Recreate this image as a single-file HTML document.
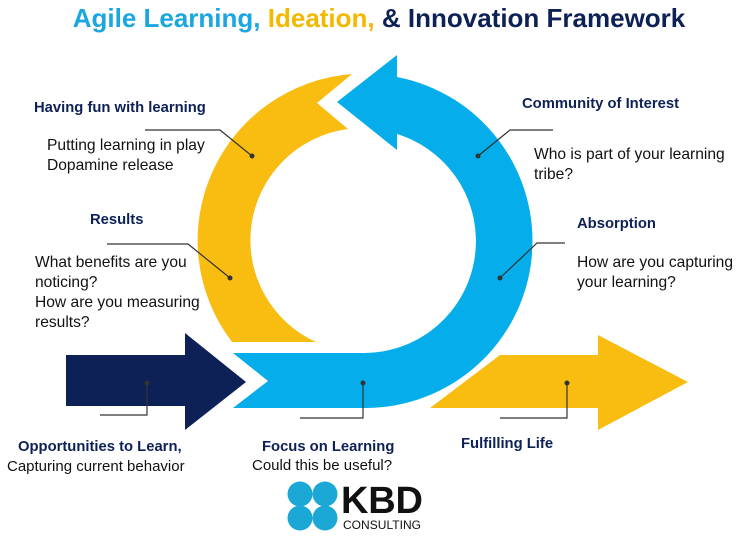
<!DOCTYPE html>
<html><head><meta charset="utf-8"><style>
html,body{margin:0;padding:0;background:#fff;}
body{width:740px;height:536px;position:relative;overflow:hidden;font-family:"Liberation Sans",sans-serif;}
.t{position:absolute;white-space:nowrap;font-size:15.6px;color:#111;line-height:20px;}
.b{font-weight:bold;color:#0d2157;font-size:14.8px;}
</style></head><body>
<svg width="740" height="536" style="position:absolute;left:0;top:0">
<path d="M232,342 A167,167 0 0 1 352,74 L317,103 L348,129 A112,112 0 0 0 316,342 Z" fill="#f9bd12"/>
<path d="M337,102 L397,55 L397,77 A167,167 0 0 1 365,408 L233,408 L268,381 L233,353 L365,353 A112,112 0 0 0 397,134 L397,150 Z" fill="#05aeea"/>
<path d="M66,355 L185,355 L185,333 L246,382 L185,430 L185,406 L66,406 Z" fill="#0d2157"/>
<path d="M430,408 L500,355 L598,355 L598,335 L688,382 L598,430 L598,408 Z" fill="#f9bd12"/>
<g stroke="#333" stroke-width="1.2" fill="none">
<polyline points="145,130 220,130 252,156"/>
<polyline points="107,244 188,244 230,278"/>
<polyline points="553,130 510,130 478,156"/>
<polyline points="565,243 537,243 500,278"/>
<polyline points="147,383 147,415 100,415"/>
<polyline points="363,383 363,418 300,418"/>
<polyline points="567,383 567,418 500,418"/>
</g>
<g fill="#333">
<circle cx="252" cy="156" r="2.5"/><circle cx="230" cy="278" r="2.5"/>
<circle cx="478" cy="156" r="2.5"/><circle cx="500" cy="278" r="2.5"/>
<circle cx="147" cy="383" r="2.5"/><circle cx="363" cy="383" r="2.5"/><circle cx="567" cy="383" r="2.5"/>
</g>
<g fill="#1ba8d6">
<circle cx="300" cy="494" r="12.5"/><circle cx="325" cy="494" r="12.5"/>
<circle cx="300" cy="518" r="12.5"/><circle cx="325" cy="518" r="12.5"/>
</g>
<text x="341" y="513" font-family="Liberation Sans" font-weight="bold" font-size="38" fill="#111" textLength="82">KBD</text>
<text x="343" y="529" font-family="Liberation Sans" font-size="12" fill="#111" textLength="78">CONSULTING</text>
</svg>
<div class="t" style="left:0;width:758px;top:3px;text-align:center;font-size:26px;font-weight:bold;line-height:30px"><span style="color:#1aa7e0">Agile Learning, </span><span style="color:#f5b800">Ideation, </span><span style="color:#0d2157">&amp; Innovation Framework</span></div>
<div class="t b" style="left:34px;top:98px">Having fun with learning</div>
<div class="t" style="left:47px;top:136px">Putting learning in play<br>Dopamine release</div>
<div class="t b" style="left:90px;top:210px">Results</div>
<div class="t" style="left:35px;top:253px">What benefits are you<br>noticing?<br>How are you measuring<br>results?</div>
<div class="t b" style="left:522px;top:94px">Community of Interest</div>
<div class="t" style="left:534px;top:145px">Who is part of your learning<br>tribe?</div>
<div class="t b" style="left:577px;top:214px">Absorption</div>
<div class="t" style="left:577px;top:253px">How are you capturing<br>your learning?</div>
<div class="t b" style="left:18px;top:437px">Opportunities to Learn,</div>
<div class="t" style="left:7px;top:457px;font-size:15px">Capturing current behavior</div>
<div class="t b" style="left:262px;top:437px">Focus on Learning</div>
<div class="t" style="left:252px;top:456px;font-size:15px">Could this be useful?</div>
<div class="t b" style="left:461px;top:434px">Fulfilling Life</div>
</body></html>
